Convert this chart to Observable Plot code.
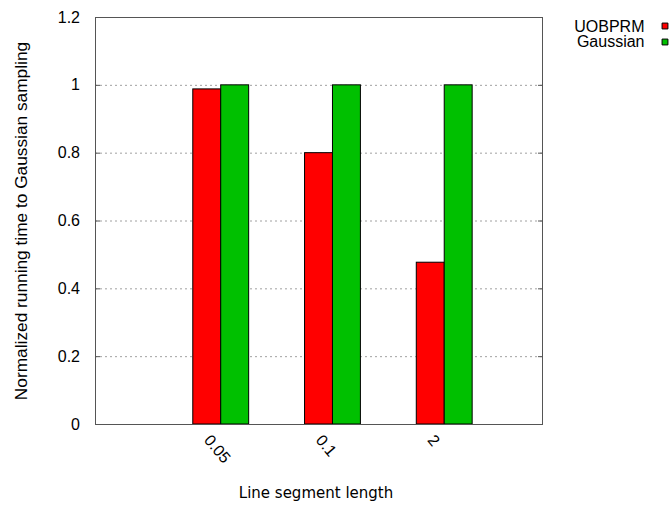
<!DOCTYPE html>
<html>
<head>
<meta charset="utf-8">
<script src="https://cdn.jsdelivr.net/npm/d3@7"></script>
<script src="https://cdn.jsdelivr.net/npm/@observablehq/plot@0.6"></script>
<style>
  html, body { margin: 0; padding: 0; background: #fff; }
</style>
</head>
<body>
<div id="chart"></div>
<script>
const categories = ["0.05", "0.1", "2"];
const uobprm = [0.988, 0.8, 0.477];
const gaussian = [1, 1, 1];
const series = ["UOBPRM", "Gaussian"];
const colors = ["#ff0000", "#00c000"];
const yTicks = [0, 0.2, 0.4, 0.6, 0.8, 1, 1.2];
const xLabel = "Line segment length";
const yLabel = "Normalized running time to Gaussian sampling";

const barWidth = 0.25;
const values = [uobprm, gaussian];
const rows = [];
categories.forEach((c, i) => {
  values.forEach((vals, j) => {
    rows.push({
      cat: c,
      series: series[j],
      value: vals[i],
      x1: i + (j - 1) * barWidth,
      x2: i + j * barWidth,
      color: colors[j]
    });
  });
});

const sans = "'Liberation Sans', Arial, Helvetica, sans-serif";

const legendMarks = series.flatMap((s, j) => [
  Plot.text([s], {
    frameAnchor: "top-right", dx: 102, dy: 14 + j * 15.6,
    textAnchor: "end", lineAnchor: "bottom", fontSize: 16, fill: "#000"
  }),
  Plot.dot([s], {
    frameAnchor: "top-right", dx: 122.5, dy: 8.5 + j * 16,
    symbol: "square", r: 3.3, fill: colors[j], stroke: "#000", strokeWidth: 1
  })
]);

const chart = Plot.plot({
  width: 671,
  height: 506,
  marginLeft: 95,
  marginRight: 129,
  marginTop: 17,
  marginBottom: 82,
  style: { background: "#fff", fontFamily: sans, overflow: "visible" },
  x: { domain: [-1.125, 2.875], axis: null },
  y: { domain: [0, 1.2], axis: null },
  marks: [
    Plot.ruleY(yTicks.filter(t => t > 0 && t < 1.2), {
      stroke: "#a0a0a0", strokeDasharray: "2,3", strokeWidth: 1
    }),
    Plot.rectY(rows, {
      x1: "x1", x2: "x2", y1: 0, y2: "value",
      fill: "color", stroke: "#000", strokeWidth: 1, inset: 0
    }),
    Plot.frame({ stroke: "#555", strokeWidth: 1 }),
    Plot.axisY({ ticks: yTicks, anchor: "left", tickSize: -5, tickFormat: () => "", label: null, stroke: "#555" }),
    Plot.axisY({ ticks: yTicks, anchor: "right", tickSize: -5, tickFormat: () => "", label: null, stroke: "#555" }),
    Plot.axisY({
      ticks: yTicks, anchor: "left", tickSize: 0, tickPadding: 15.5,
      tickFormat: d => String(d), label: null, fontSize: 16, fill: "#000"
    }),
    Plot.text(categories, {
      x: (d, i) => i, frameAnchor: "bottom", dx: -18, dy: 16,
      rotate: 50, textAnchor: "start", lineAnchor: "bottom", fontSize: 16, fill: "#000"
    }),
    Plot.text([xLabel], {
      frameAnchor: "bottom", dx: -3, dy: 73.3, textAnchor: "middle", lineAnchor: "bottom",
      fontSize: 15, fontFamily: "'DejaVu Sans', sans-serif", fill: "#000"
    }),
    Plot.text([yLabel], {
      frameAnchor: "left", dx: -69, rotate: -90, textAnchor: "middle", lineAnchor: "bottom",
      fontSize: 17.3, fill: "#000"
    }),
    ...legendMarks
  ]
});

document.getElementById("chart").appendChild(chart);
</script>
</body>
</html>
